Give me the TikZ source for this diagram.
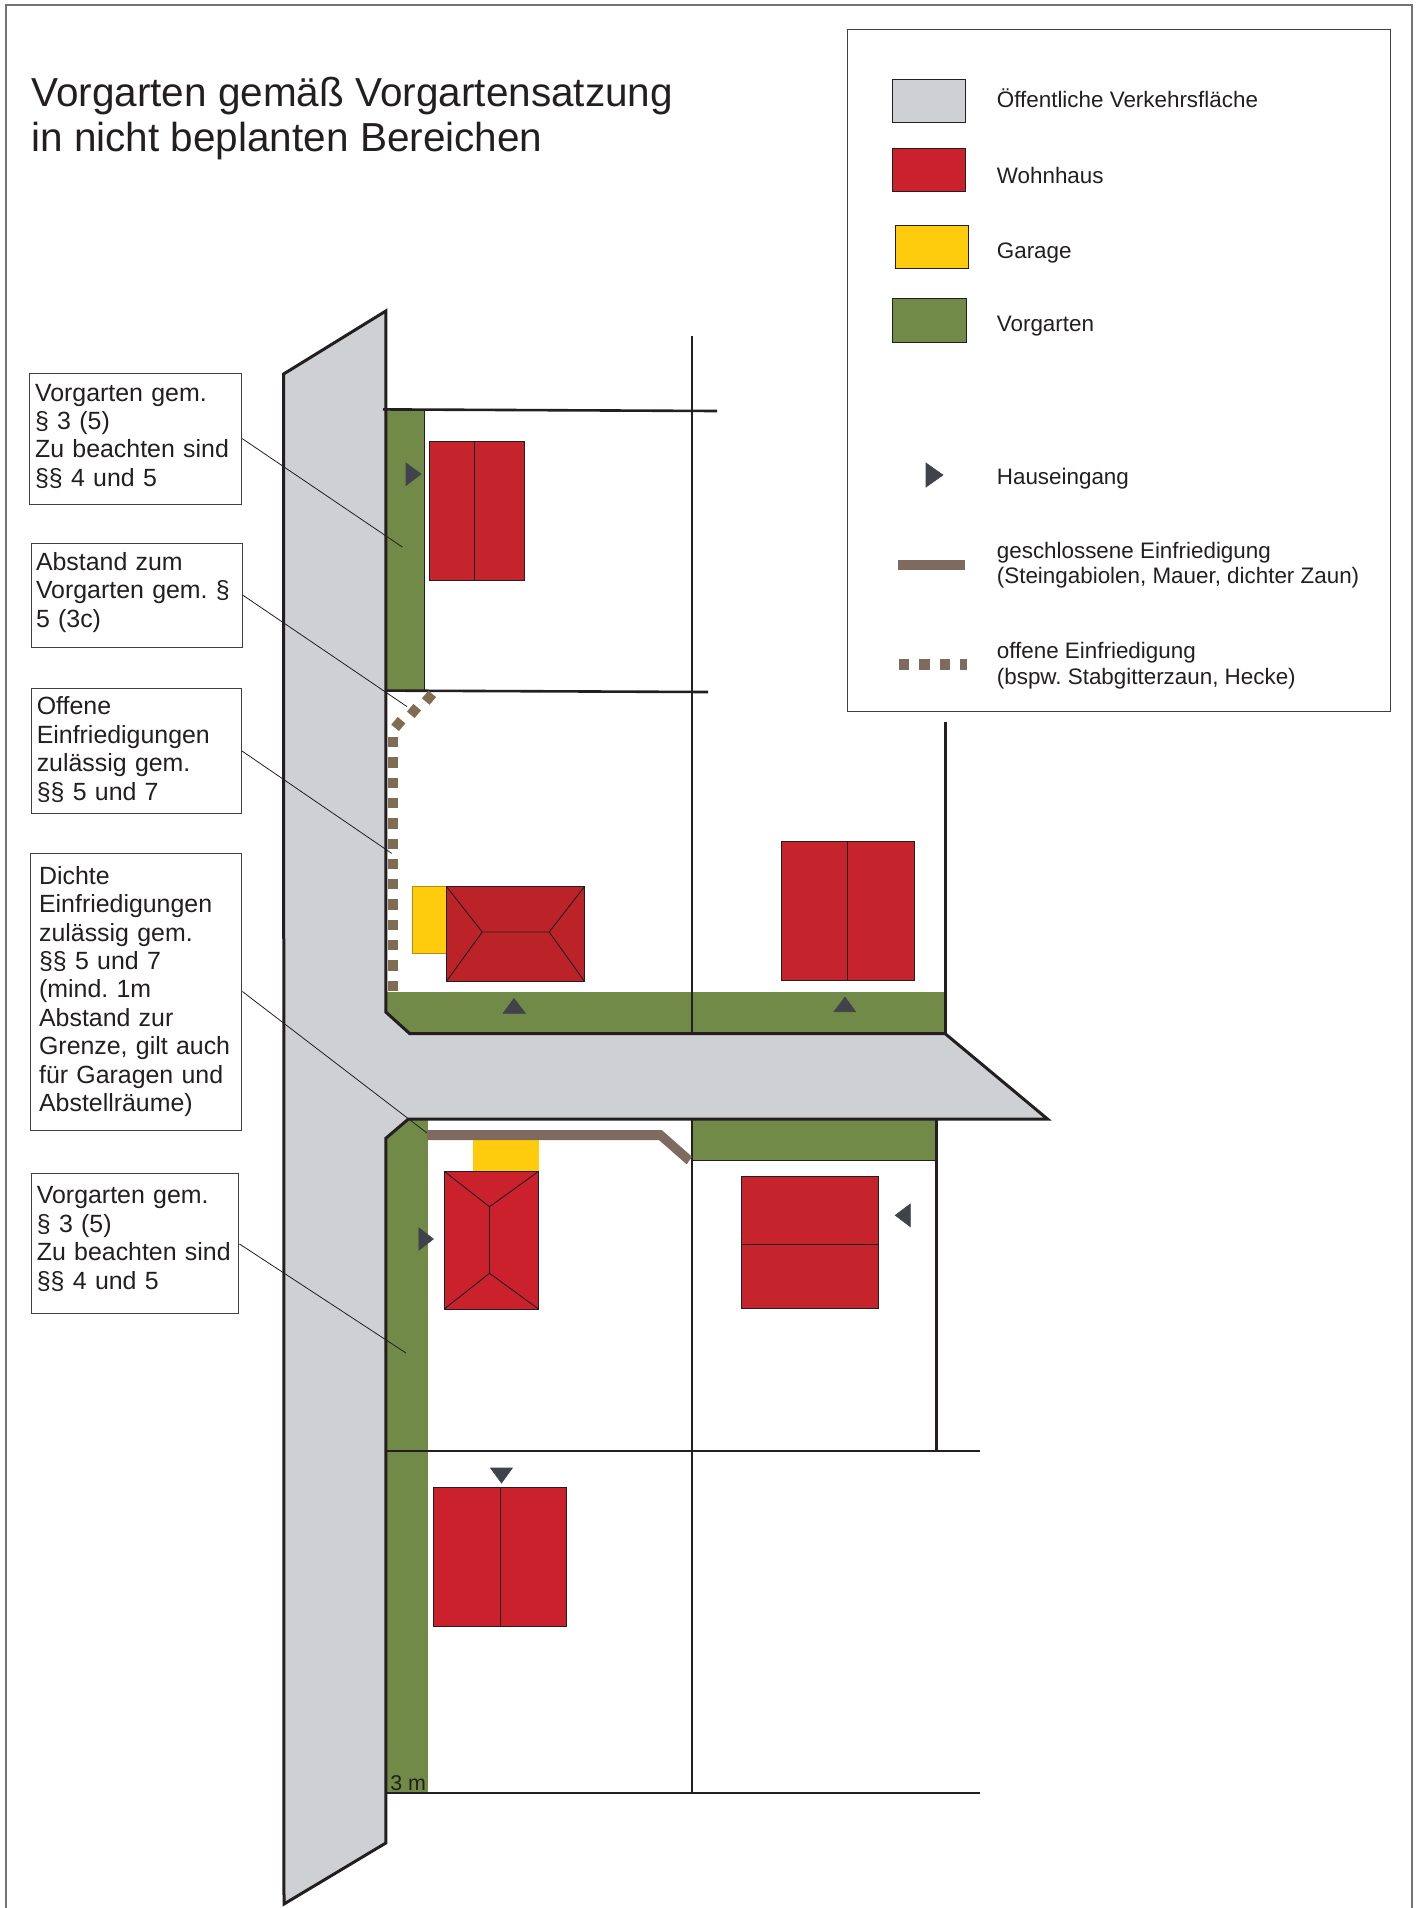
\documentclass[tikz,border=0pt]{standalone}
\usepackage{fontspec}
\setmainfont{Liberation Sans}
\frenchspacing
\definecolor{roadgrey}{HTML}{CFD0D4}
\definecolor{gardengreen}{HTML}{718A48}
\definecolor{houseredA}{HTML}{CB212D}
\definecolor{houseredB}{HTML}{C5242C}
\definecolor{houseredC}{HTML}{BC2329}
\definecolor{garageyellow}{HTML}{FFCB0D}
\definecolor{doorgrey}{HTML}{404349}
\definecolor{wallbrown}{HTML}{7F6A5F}
\definecolor{dotbrown}{HTML}{806C52}
\definecolor{linedark}{HTML}{231F20}
\tikzset{
        lotline/.style={draw=linedark, line width=1.3pt},
        roofline/.style={draw=linedark, line width=0.45pt},
        leaderline/.style={draw=linedark, line width=0.4pt},
        door/.style={fill=doorgrey, draw=doorgrey, line width=0.3pt},
        infobox/.style={draw=black!75, fill=white, line width=0.5pt, anchor=north west,
                align=left, inner ysep=0pt, text=linedark, font=\fontsize{12.45}{14.2}\selectfont},
        legendtext/.style={anchor=west, align=left, inner sep=0pt, text=linedark,
                font=\fontsize{11.2}{12.8}\selectfont},
}

\begin{document}
\begin{tikzpicture}[x=0.5pt, y=-0.5pt]
        \useasboundingbox (0,0) rectangle (1418,1908);
        \draw[black!55, line width=0.6pt] (6,1908) -- (6,5) -- (1412,5) -- (1412,1908);

        \node[anchor=west, align=left, inner sep=0pt, text=linedark,
                font=\fontsize{20.25}{22.6}\selectfont] (title) at (31,118.5)
                {Vorgarten gemäß Vorgartensatzung\\in nicht beplanten Bereichen};

        %%%%%%%%%%%%%%%%%%%%%%%%%%%%%%
        \filldraw[gardengreen, roofline, fill=gardengreen] (386,409.5) rectangle (424,690);
        \fill[gardengreen] (386,991.6) -- (945,991.6) -- (945,1034) -- (386,1034) -- cycle;
        \fill[gardengreen] (386,1119) rectangle (427.5,1793);
        \filldraw[roofline, fill=gardengreen] (692,1119) rectangle (936.2,1160.3);

        \filldraw[lotline, line width=1.5pt, fill=roadgrey] (283.6,374) -- (385.8,311) -- (385.8,1012)
                -- (409.8,1033.7) -- (945.2,1033.7) -- (1047.5,1119) -- (408.4,1119)
                -- (385.8,1138.3) -- (385.8,1843) -- (284,1904) -- cycle;

        \draw[lotline] (383,409.4) -- (717,411);
        \draw[lotline] (385.4,690.6) -- (708,692);
        \draw[lotline] (692,336) -- (692,1034);
        \draw[lotline] (692,1119) -- (692,1793);
        \draw[lotline] (945.2,722) -- (945.2,1034);
        \draw[lotline] (936.2,1119) -- (936.2,1451);
        \draw[lotline] (386,1451) -- (980,1451);
        \draw[lotline] (386,1793) -- (980,1793);

        %%%%%%%%%%%%%%%%%%%%%%%%%%%%%%
        \filldraw[roofline, fill=houseredB] (429.5,441.4) rectangle (524,580);
        \draw[roofline] (474,441.4) -- (474,580);

        \filldraw[draw=garageyellow!70!black, line width=0.5pt, fill=garageyellow] (412,886.4) rectangle (446.4,953.3);
        \filldraw[roofline, fill=houseredC] (446.4,886.4) rectangle (584.6,981.4);
        \draw[roofline] (446.4,886.4) -- (482.3,932) -- (549.2,932) -- (584.6,886.4);
        \draw[roofline] (446.4,981.4) -- (482.3,932);
        \draw[roofline] (584.6,981.4) -- (549.2,932);

        \filldraw[roofline, fill=houseredB] (781.5,841) rectangle (914,980);
        \draw[roofline] (847,841) -- (847,980);

        \fill[garageyellow] (472.5,1140) rectangle (538.6,1171);
        \filldraw[roofline, fill=houseredA] (444.2,1171.3) rectangle (538.6,1309);
        \draw[roofline] (444.2,1171.3) -- (489.5,1206.7) -- (538.6,1171.3);
        \draw[roofline] (489.5,1206.7) -- (489.5,1273.3);
        \draw[roofline] (444.2,1309) -- (489.5,1273.3) -- (538.6,1309);

        \filldraw[roofline, fill=houseredB] (741,1176) rectangle (878.7,1308.7);
        \draw[roofline] (741,1244.3) -- (878.7,1244.3);

        \filldraw[roofline, fill=houseredA] (433.3,1487.4) rectangle (566,1626);
        \draw[roofline] (500,1487.4) -- (500,1626);

        %%%%%%%%%%%%%%%%%%%%%%%%%%%%%%
        \filldraw[door] (406,463) -- (421,474) -- (406,485.5) -- cycle;
        \filldraw[door] (503,1013.4) -- (514,998.5) -- (525.4,1013.4) -- cycle;
        \filldraw[door] (834,1011.7) -- (845,997) -- (855.6,1011.7) -- cycle;
        \filldraw[door] (418.8,1227.7) -- (433.4,1239) -- (418.8,1250.3) -- cycle;
        \filldraw[door] (910.3,1204) -- (895.2,1215.3) -- (910.3,1226.7) -- cycle;
        \filldraw[door] (490.5,1468) -- (512.4,1468) -- (501.5,1483) -- cycle;

        %%%%%%%%%%%%%%%%%%%%%%%%%%%%%%
        \fill[wallbrown] (427.3,1130) -- (661.7,1130) -- (692,1156.7) -- (686.7,1164.3)
                -- (658.9,1140) -- (427.3,1140) -- cycle;

        \fill[dotbrown, rotate around={-40:(429,697.7)}] (424,692.7) rectangle (434,702.7);
        \fill[dotbrown, rotate around={-40:(414,711)}] (409,706) rectangle (419,716);
        \fill[dotbrown, rotate around={-40:(398.3,724)}] (393.3,719) rectangle (403.3,729);

        \fill[dotbrown] (387.7,737) rectangle (397.7,747.3);
        \fill[dotbrown] (387.7,757.3) rectangle (397.7,767.6);
        \fill[dotbrown] (387.7,777.6) rectangle (397.7,787.9);
        \fill[dotbrown] (387.7,797.9) rectangle (397.7,808.2);
        \fill[dotbrown] (387.7,818.2) rectangle (397.7,828.5);
        \fill[dotbrown] (387.7,838.5) rectangle (397.7,848.8);
        \fill[dotbrown] (387.7,858.8) rectangle (397.7,869.1);
        \fill[dotbrown] (387.7,879.1) rectangle (397.7,889.4);
        \fill[dotbrown] (387.7,899.4) rectangle (397.7,909.7);
        \fill[dotbrown] (387.7,919.7) rectangle (397.7,930);
        \fill[dotbrown] (387.7,940) rectangle (397.7,950.3);
        \fill[dotbrown] (387.7,960.3) rectangle (397.7,970.6);
        \fill[dotbrown] (387.7,980.6) rectangle (397.7,990.9);

        \node[anchor=base west, inner sep=0pt, text=linedark, font=\fontsize{10.7}{12}\selectfont] (width) at (390,1790) {3 m};

        %%%%%%%%%%%%%%%%%%%%%%%%%%%%%%
        \node[infobox, inner xsep=3pt, text width=100.3pt, minimum height=65.5pt] (boxa) at (28.6,372.6)
                {Vorgarten gem.\\§ 3 (5)\\Zu beachten sind\\§§ 4 und 5\par\vspace{2.4pt}};
        \node[infobox, inner xsep=2.5pt, text width=100.7pt, minimum height=52pt] (boxb) at (30.5,542.7)
                {Abstand zum\\Vorgarten gem. §\\5 (3c)\par\vspace{3pt}};
        \node[infobox, inner xsep=2.9pt, text width=99.3pt, minimum height=62.6pt] (boxc) at (30.5,687.7)
                {Offene\\Einfriedigungen\\zulässig gem.\\§§ 5 und 7\par\vspace{1.2pt}};
        \node[infobox, inner xsep=4.4pt, text width=97pt, minimum height=138.5pt] (boxd) at (29.8,852.5)
                {Dichte\\Einfriedigungen\\zulässig gem.\\§§ 5 und 7\\(mind. 1m\\Abstand zur\\Grenze, gilt auch\\für Garagen und\\Abstellräume)};
        \node[infobox, inner xsep=2.7pt, text width=98.3pt, minimum height=70pt] (boxe) at (31,1173.4)
                {Vorgarten gem.\\§ 3 (5)\\Zu beachten sind\\§§ 4 und 5\par\vspace{5pt}};

        \coordinate (enda) at (402.3,547);
        \coordinate (endb) at (407,706.6);
        \coordinate (endc) at (391.7,853.4);
        \coordinate (endd) at (427,1133);
        \coordinate (ende) at (406,1353);

        \draw[leaderline] (boxa.east) -- (enda);
        \draw[leaderline] (boxb.east) -- (endb);
        \draw[leaderline] (boxc.east) -- (endc);
        \draw[leaderline] (boxd.east) -- (endd);
        \draw[leaderline] (boxe.east) -- (ende);

        %%%%%%%%%%%%%%%%%%%%%%%%%%%%%%
        \draw[black!75, line width=0.5pt, fill=white] (847,29) rectangle (1390,711);

        \filldraw[roofline, fill=roadgrey] (892,79.5) rectangle (965,122);
        \filldraw[roofline, fill=houseredA] (892,148) rectangle (965,191);
        \filldraw[roofline, fill=garageyellow] (895,225) rectangle (968,268);
        \filldraw[roofline, fill=gardengreen] (892.5,298.6) rectangle (966.6,342);

        \filldraw[door] (926,463) -- (943,475) -- (926,487) -- cycle;
        \fill[wallbrown] (897.7,560) rectangle (965.3,570.3);
        \fill[wallbrown] (899.3,659.3) rectangle (909.3,670);
        \fill[wallbrown] (919.3,659.3) rectangle (929.7,670);
        \fill[wallbrown] (939.7,659.3) rectangle (950,670);
        \fill[wallbrown] (960,659.3) rectangle (966.7,670);

        \node[legendtext] (legroad) at (996.5,98.6) {Öffentliche Verkehrsfläche};
        \node[legendtext] (leghouse) at (996.5,175.5) {Wohnhaus};
        \node[legendtext] (leggarage) at (996.5,252.5) {Garage};
        \node[legendtext] (leggarden) at (996.5,326.5) {Vorgarten};
        \node[legendtext] (legdoor) at (996.5,478.5) {Hauseingang};
        \node[legendtext] (legwall) at (996.5,565) {geschlossene Einfriedigung\\(Steingabiolen, Mauer, dichter Zaun)};
        \node[legendtext] (legfence) at (996.5,665.5) {offene Einfriedigung\\(bspw. Stabgitterzaun, Hecke)};
\end{tikzpicture}
\end{document}
